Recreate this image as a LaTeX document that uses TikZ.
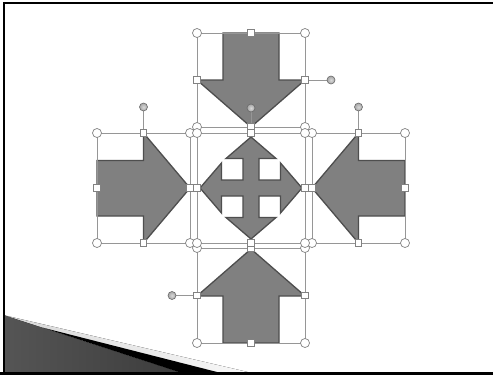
\documentclass[tikz,border=0pt]{standalone}
\usetikzlibrary{calc}
\definecolor{arrowfill}{RGB}{128,128,128}
\definecolor{arrowline}{RGB}{78,78,78}
\definecolor{selgray}{RGB}{150,150,150}
\definecolor{hgray}{RGB}{130,130,130}
\definecolor{swdark}{RGB}{85,85,85}
\definecolor{swlight}{RGB}{180,180,180}
\definecolor{swdarker}{RGB}{60,60,60}
\definecolor{band}{RGB}{215,215,215}
\tikzset{
  arrowshape/.style={fill=arrowfill, draw=arrowline, line width=1.3pt, line join=miter},
  selbox/.style={draw=selgray, line width=0.8pt, inner sep=0pt, outer sep=0pt},
  cornerh/.style={circle, draw=hgray, fill=white, inner sep=0pt, minimum size=9pt, line width=0.7pt},
  sideh/.style={rectangle, draw=hgray, fill=white, inner sep=0pt, minimum size=6.5pt, line width=0.7pt},
  roth/.style={circle, draw=hgray!80!black, inner sep=0pt, minimum size=8pt, line width=0.6pt,
     inner color=gray!30, outer color=gray!70},
  stalk/.style={draw=selgray, line width=0.8pt},
}
\newcommand\handlesof[1]{%
  \foreach \a in {north west,north east,south west,south east}
    \node[cornerh] (#1-h-\a) at (#1.\a) {};
  \foreach \a in {north,south,east,west}
    \node[sideh] (#1-s-\a) at (#1.\a) {};
}
\begin{document}
\begin{tikzpicture}[x=1pt,y=-1pt]
\useasboundingbox (0,0) rectangle (493,375);
\fill[white] (0,0) rectangle (493,375);

% bottom-left swoosh
\fill[left color=band, right color=white!95!gray] (3,315) -- (252,373) -- (3,373) -- cycle;
\fill[left color=swdark, middle color=swlight, right color=swdarker] (3,315) -- (182,373) -- (3,373) -- cycle;
\fill[black] (43,327.7) -- (221,373) -- (182,373) -- cycle;

% border
\draw[black, line width=2pt] (3.5,375) -- (3.5,2.7) -- (493,2.7);
\draw[black, line width=2.6pt] (0,373.5) -- (493,373.5);

% shapes
\draw[arrowshape] (223,33) -- (279,33) -- (279,80) -- (305,80) -- (251,127) -- (197,80) -- (223,80) -- cycle;
\draw[arrowshape] (223,343) -- (279,343) -- (279,296) -- (305,296) -- (251,249) -- (197,296) -- (223,296) -- cycle;
\draw[arrowshape] (97,160.5) -- (143.5,160.5) -- (143.5,133) -- (190,188) -- (143.5,243) -- (143.5,216) -- (97,216) -- cycle;
\draw[arrowshape] (405,160.5) -- (358.5,160.5) -- (358.5,133) -- (312,188) -- (358.5,243) -- (358.5,216) -- (405,216) -- cycle;
\begin{scope}[shift={(251,188)}]
\draw[arrowshape] (0,-51) -- (25,-29.5) -- (8,-29.5) -- (8,-8) -- (29.5,-8) -- (29.5,-25) -- (51,0)
  -- (29.5,25) -- (29.5,8) -- (8,8) -- (8,29.5) -- (25,29.5) -- (0,51) -- (-25,29.5) -- (-8,29.5)
  -- (-8,8) -- (-29.5,8) -- (-29.5,25) -- (-51,0) -- (-29.5,-25) -- (-29.5,-8) -- (-8,-8)
  -- (-8,-29.5) -- (-25,-29.5) -- cycle;
\end{scope}

% selection boxes
\node[selbox, minimum width=108pt, minimum height=94pt] (topA) at (251,80) {};
\node[selbox, minimum width=93pt, minimum height=110pt] (leftA) at (143.5,188) {};
\node[selbox, minimum width=93pt, minimum height=110pt] (rightA) at (358.5,188) {};
\node[selbox, minimum width=108pt, minimum height=95pt] (botA) at (251,295.5) {};
\node[selbox, minimum width=108pt, minimum height=110pt] (ctr) at (251,188) {};

% rotation handle stalks
\coordinate (topA-rot) at (331,80);
\coordinate (leftA-rot) at (143.5,107);
\coordinate (rightA-rot) at (358.5,107);
\coordinate (botA-rot) at (172,295.5);
\coordinate (ctr-rot) at (251,108);
\draw[stalk] (topA.east) -- (topA-rot);
\draw[stalk] (leftA.north) -- (leftA-rot);
\draw[stalk] (rightA.north) -- (rightA-rot);
\draw[stalk] (botA.west) -- (botA-rot);
\draw[stalk] (ctr.north) -- (ctr-rot);

% handles
\handlesof{topA}
\handlesof{leftA}
\handlesof{rightA}
\handlesof{botA}
\handlesof{ctr}
\node[roth] (topA-r) at (topA-rot) {};
\node[roth] (leftA-r) at (leftA-rot) {};
\node[roth] (rightA-r) at (rightA-rot) {};
\node[roth] (botA-r) at (botA-rot) {};
\node[roth] (ctr-r) at (ctr-rot) {};
\end{tikzpicture}
\end{document}
